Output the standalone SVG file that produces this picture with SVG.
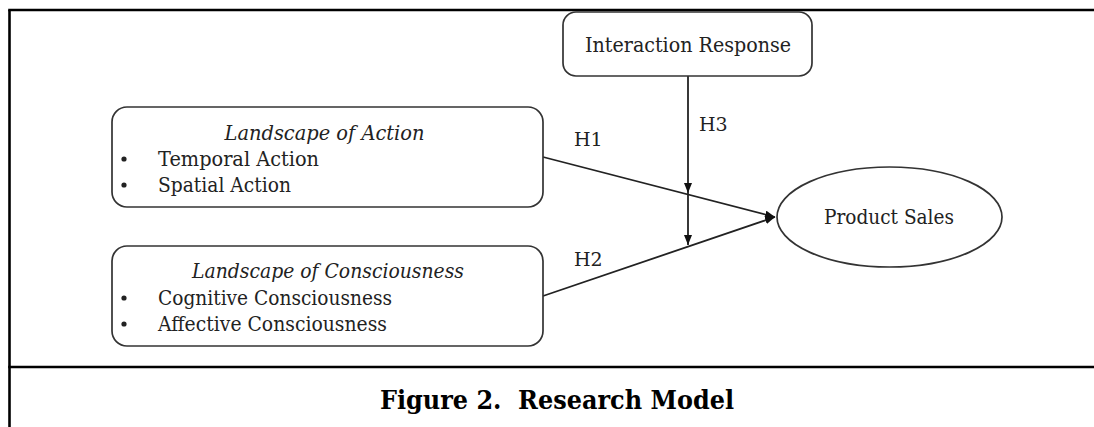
<svg xmlns="http://www.w3.org/2000/svg" width="1094" height="427" viewBox="0 0 1094 427">
<style>
.box{fill:#fff;stroke:#333;stroke-width:1.7}
.t{font-family:"DejaVu Serif","Liberation Serif",serif;font-size:20.5px;fill:#222}
.it{font-style:italic}
.lbl{font-family:"DejaVu Serif","Liberation Serif",serif;font-size:19px;fill:#222}
.conn{stroke:#222;stroke-width:1.8;fill:none}
.frame{stroke:#000;stroke-width:2.6;fill:none}
.cap{font-family:"DejaVu Serif","Liberation Serif",serif;font-size:26px;font-weight:bold;fill:#000}
</style>
<defs>
<marker id="ah" markerUnits="userSpaceOnUse" markerWidth="10" markerHeight="8" viewBox="0 0 10 8" refX="10" refY="4" orient="auto">
<path d="M0,0 L10,4 L0,8 z" fill="#111"/>
</marker>
</defs>
<rect width="1094" height="427" fill="#fff"/>
<g id="frame">
<line class="frame" x1="9.5" y1="10" x2="9.5" y2="427"/>
<line class="frame" x1="8.2" y1="10" x2="1094" y2="10"/>
<line class="frame" x1="8.2" y1="367" x2="1094" y2="367"/>
</g>
<g id="connectors">
<line class="conn" x1="543" y1="157" x2="775" y2="217" marker-end="url(#ah)"/>
<line class="conn" x1="543" y1="296" x2="775" y2="217" marker-end="url(#ah)"/>
<line class="conn" x1="688" y1="76" x2="688" y2="193" marker-end="url(#ah)"/>
<line class="conn" x1="688" y1="193" x2="688" y2="245" marker-end="url(#ah)"/>
<text class="lbl" x="574" y="146">H1</text>
<text class="lbl" x="699" y="131">H3</text>
<text class="lbl" x="574" y="266">H2</text>
</g>
<g id="interaction">
<rect class="box" x="563" y="12" width="249" height="64" rx="13"/>
<text class="t" x="585" y="52" textLength="206" lengthAdjust="spacingAndGlyphs">Interaction Response</text>
</g>
<g id="action">
<rect class="box" x="112" y="107" width="431" height="100" rx="15"/>
<text class="t it" x="224.5" y="140" textLength="200" lengthAdjust="spacingAndGlyphs">Landscape of Action</text>
<circle cx="124" cy="159" r="2.6" fill="#222"/>
<text class="t" x="158" y="166" textLength="161" lengthAdjust="spacingAndGlyphs">Temporal Action</text>
<circle cx="124" cy="185" r="2.6" fill="#222"/>
<text class="t" x="158" y="192" textLength="133" lengthAdjust="spacingAndGlyphs">Spatial Action</text>
</g>
<g id="consciousness">
<rect class="box" x="112" y="246" width="431" height="100" rx="15"/>
<text class="t it" x="192" y="278" textLength="272" lengthAdjust="spacingAndGlyphs">Landscape of Consciousness</text>
<circle cx="124" cy="298" r="2.6" fill="#222"/>
<text class="t" x="158" y="305" textLength="234" lengthAdjust="spacingAndGlyphs">Cognitive Consciousness</text>
<circle cx="124" cy="324" r="2.6" fill="#222"/>
<text class="t" x="158" y="331" textLength="229" lengthAdjust="spacingAndGlyphs">Affective Consciousness</text>
</g>
<g id="sales">
<ellipse class="box" cx="889.5" cy="217" rx="112.5" ry="50"/>
<text class="t" x="824" y="224" textLength="130" lengthAdjust="spacingAndGlyphs">Product Sales</text>
</g>
<g id="caption">
<text class="cap" x="380" y="409" textLength="354" lengthAdjust="spacingAndGlyphs">Figure 2.&#160; Research Model</text>
</g>
</svg>
